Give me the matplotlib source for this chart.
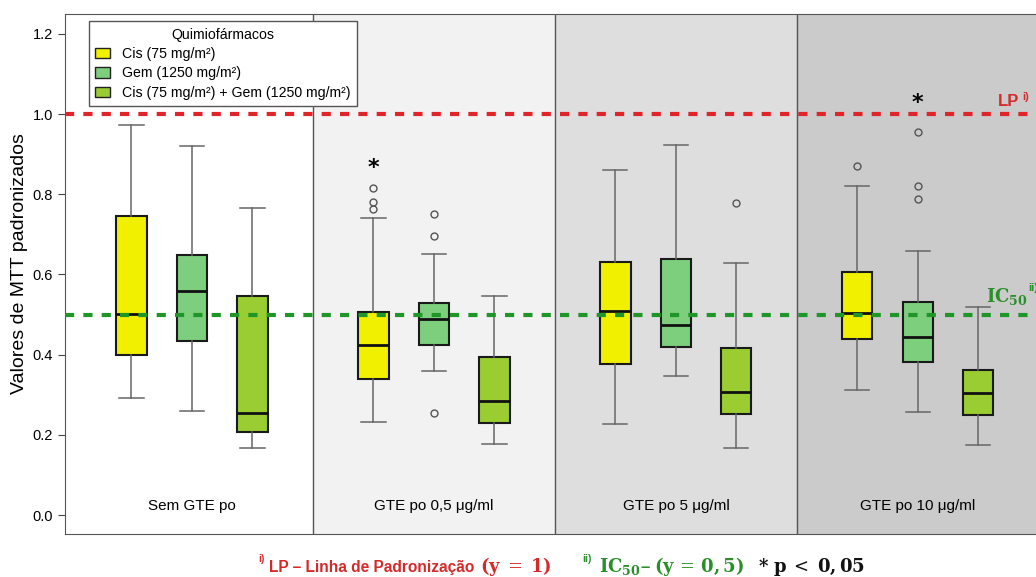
import matplotlib
matplotlib.use("Agg")
import matplotlib.pyplot as plt

plt.rcParams["font.family"] = ["Liberation Sans", "DejaVu Sans"]
plt.rcParams["mathtext.fontset"] = "custom"
plt.rcParams["mathtext.rm"] = "Liberation Sans"

groups = ["Sem GTE po", "GTE po 0,5 \u03bcg/ml", "GTE po 5 \u03bcg/ml", "GTE po 10 \u03bcg/ml"]
treatments = [
    "Cis (75 mg/m\u00b2)",
    "Gem (1250 mg/m\u00b2)",
    "Cis (75 mg/m\u00b2) + Gem (1250 mg/m\u00b2)",
]
colors = ["#f0f000", "#7dcf7d", "#9acd32"]
panel_colors = ["#ffffff", "#f2f2f2", "#dedede", "#cbcbcb"]

# five-number summaries per treatment, one value per GTE group
cis_low = [0.292, 0.233, 0.228, 0.312]
cis_q1 = [0.399, 0.340, 0.376, 0.439]
cis_med = [0.501, 0.425, 0.509, 0.503]
cis_q3 = [0.746, 0.506, 0.630, 0.605]
cis_high = [0.973, 0.741, 0.860, 0.820]
cis_out = [[], [0.815, 0.781, 0.764], [], [0.871]]

gem_low = [0.259, 0.359, 0.346, 0.258]
gem_q1 = [0.434, 0.425, 0.420, 0.381]
gem_med = [0.559, 0.490, 0.473, 0.443]
gem_q3 = [0.648, 0.528, 0.638, 0.531]
gem_high = [0.920, 0.652, 0.922, 0.658]
gem_out = [[], [0.750, 0.697, 0.254], [], [0.954, 0.821, 0.788]]

combo_low = [0.167, 0.177, 0.168, 0.175]
combo_q1 = [0.207, 0.229, 0.253, 0.249]
combo_med = [0.254, 0.284, 0.306, 0.304]
combo_q3 = [0.546, 0.394, 0.417, 0.361]
combo_high = [0.766, 0.547, 0.628, 0.518]
combo_out = [[], [], [0.778], []]

# significance marks: (group, treatment, height)
signif = [(1, 0, 0.865), (3, 1, 1.027)]

lp_level = 1.0
ic50_level = 0.5

summaries = [
    (cis_low, cis_q1, cis_med, cis_q3, cis_high, cis_out),
    (gem_low, gem_q1, gem_med, gem_q3, gem_high, gem_out),
    (combo_low, combo_q1, combo_med, combo_q3, combo_high, combo_out),
]

RED = "#d42a2a"
GREEN = "#2a8f2a"

fig = plt.figure(figsize=(10.36, 5.77), dpi=100)
ax = fig.add_axes([0.0627, 0.0745, 0.94, 0.901])

ax.set_xlim(-0.1, 16)
ax.set_ylim(-0.047, 1.249)

for g, pc in enumerate(panel_colors):
    left = -0.1 if g == 0 else 4 * g
    ax.axvspan(left, 4 * g + 4, color=pc, zorder=0)
    if g > 0:
        ax.axvline(4 * g, color="#555555", lw=1.0, zorder=1)
    ax.text(4 * g + 2, 0.022, groups[g], ha="center", va="center", fontsize=11)

for t, (lo, q1, med, q3, hi, out) in enumerate(summaries):
    stats = []
    for g in range(len(groups)):
        stats.append(dict(whislo=lo[g], q1=q1[g], med=med[g], q3=q3[g],
                          whishi=hi[g], fliers=out[g]))
    positions = [4 * g + 1 + t for g in range(len(groups))]
    ax.bxp(stats, positions=positions, widths=0.5, patch_artist=True,
           showfliers=True, manage_ticks=False,
           boxprops=dict(facecolor=colors[t], edgecolor="#1a1a1a", linewidth=1.5),
           medianprops=dict(color="#111111", linewidth=2.0),
           whiskerprops=dict(color="#666666", linewidth=1.1),
           capprops=dict(color="#666666", linewidth=1.1),
           capwidths=0.4,
           flierprops=dict(marker="o", markerfacecolor="none",
                           markeredgecolor="#555555", markersize=5,
                           markeredgewidth=1.0),
           zorder=3)

ax.axhline(lp_level, color="#e0242a", lw=3, ls=(0, (2.2, 2.2)), zorder=4)
ax.axhline(ic50_level, color="#1f9628", lw=3, ls=(0, (2.2, 2.2)), zorder=4)

for g, t, h in signif:
    ax.text(4 * g + 1 + t, h, "*", ha="center", va="center", fontsize=16,
            fontweight="bold", family="DejaVu Sans", zorder=5)

ax.text(15.33, lp_level + 0.012, "LP", color=RED, fontsize=12,
        fontweight="bold", ha="left", va="bottom")
ax.text(15.72, lp_level + 0.03, "i)", color=RED, fontsize=8,
        fontweight="bold", ha="left", va="bottom")
ax.text(15.12, ic50_level + 0.02, r"$\mathbf{IC_{50}}$", color=GREEN,
        fontsize=13, math_fontfamily="dejavuserif", ha="left", va="bottom")
ax.text(15.82, ic50_level + 0.055, "ii)", color=GREEN, fontsize=8,
        fontweight="bold", ha="left", va="bottom")

ax.set_yticks([0.0, 0.2, 0.4, 0.6, 0.8, 1.0, 1.2])
ax.set_yticklabels(["0.0", "0.2", "0.4", "0.6", "0.8", "1.0", "1.2"])
ax.set_xticks([])
ax.tick_params(axis="y", labelsize=10.5, length=5, color="#444444")
ax.set_ylabel("Valores de MTT padronizados", fontsize=14, labelpad=4)
ax.yaxis.set_label_coords(-0.038, 0.52)
for side in ["left", "bottom", "top"]:
    ax.spines[side].set_color("#555555")
ax.spines["right"].set_visible(False)

handles = [plt.Rectangle((0, 0), 1, 1, facecolor=c, edgecolor="#222222", lw=1.0)
           for c in colors]
leg = ax.legend(handles, treatments, title="Quimiof\u00e1rmacos", loc="upper left",
                bbox_to_anchor=(0.0175, 1.0), fontsize=10.2, title_fontsize=10.2,
                frameon=True, fancybox=False, framealpha=1, edgecolor="#555555",
                handlelength=1.0, handleheight=0.75, handletextpad=0.9,
                labelspacing=0.38, borderpad=0.45)
leg.get_frame().set_linewidth(1.0)
leg.set_zorder(6)

# footnote line under the axes: (text, colour, x start in figure fraction, raised, style)
base_y = 0.009
serif_math = dict(fontsize=13, math_fontfamily="dejavuserif")
pieces = [
    ("i)", RED, 0.2490, True, dict(fontsize=7.5, fontweight="bold")),
    ("LP \u2013 Linha de Padroniza\u00e7\u00e3o", RED, 0.2597, False, dict(fontsize=11.2, fontweight="bold")),
    (r"$\mathbf{(y}\;=\;\mathbf{1)}$", RED, 0.4635, False, serif_math),
    ("ii)", GREEN, 0.5620, True, dict(fontsize=7.5, fontweight="bold")),
    (r"$\mathbf{IC_{50}}$", GREEN, 0.5780, False, serif_math),
    ("\u2013", GREEN, 0.6180, False, dict(fontsize=12, fontweight="bold")),
    (r"$\mathbf{(y}\,=\,\mathbf{0,5)}$", GREEN, 0.6310, False, serif_math),
    (r"$\mathbf{*\ p}\;<\;\mathbf{0,05}$", "#111111", 0.7320, False, serif_math),
]
for txt, col, x0, raised, kw in pieces:
    fig.text(x0, base_y + (0.017 if raised else 0), txt, color=col,
             ha="left", va="baseline", **kw)

fig.savefig("out.png", dpi=100)
